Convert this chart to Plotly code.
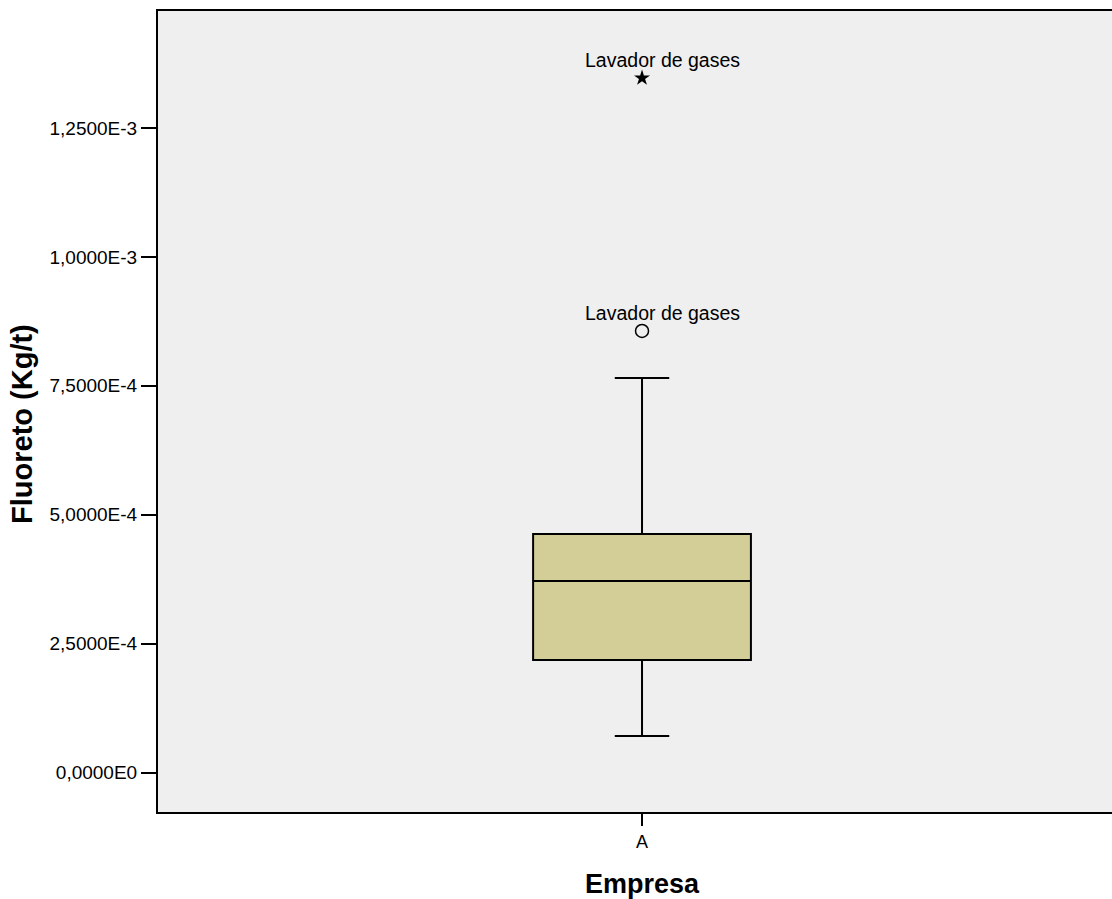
import plotly.graph_objects as go

# Box-plot summary for Fluoreto (Kg/t) by Empresa
categories = ["A"]
q1 = [2.182e-4]
median = [3.714e-4]
q3 = [4.626e-4]
lower_whisker = [7.08e-5]
upper_whisker = [7.651e-4]

# Points beyond the whiskers: outlier (circle) and extreme (star)
outlier_values = [8.563e-4]
extreme_values = [1.347e-3]
outlier_labels = ["Lavador de gases"]
extreme_labels = ["Lavador de gases"]

tick_values = [0, 2.5e-4, 5e-4, 7.5e-4, 1e-3, 1.25e-3]
tick_labels = ["0,0000E0", "2,5000E-4", "5,0000E-4", "7,5000E-4", "1,0000E-3", "1,2500E-3"]

FONT = "Liberation Sans, Arial, sans-serif"

fig = go.Figure()

fig.add_trace(go.Box(
    x=categories,
    q1=q1, median=median, q3=q3,
    lowerfence=lower_whisker, upperfence=upper_whisker,
    boxpoints=False,
    width=0.225,
    whiskerwidth=0.25,
    fillcolor="#D3CE98",
    line=dict(color="black", width=2),
    hoverinfo="skip",
    showlegend=False,
))

fig.add_trace(go.Scatter(
    x=categories * len(outlier_values), y=outlier_values,
    mode="markers",
    marker=dict(symbol="circle-open", size=13, color="black", line=dict(width=1.5, color="black")),
    showlegend=False,
))

fig.add_trace(go.Scatter(
    x=categories * len(extreme_values), y=extreme_values,
    mode="markers",
    marker=dict(symbol="star", size=12, color="black", line=dict(width=0)),
    showlegend=False,
))

for val, lab in list(zip(outlier_values, outlier_labels)) + list(zip(extreme_values, extreme_labels)):
    fig.add_annotation(
        x=categories[0], y=val, xref="x", yref="y",
        text=lab, showarrow=False,
        xshift=20, yshift=18,
        font=dict(family=FONT, size=19.5, color="black"),
    )

# Axis titles
fig.add_annotation(
    x=categories[0], y=-0.0899, xref="x", yref="paper",
    xanchor="center", yanchor="middle",
    text="<b>Empresa</b>", showarrow=False,
    font=dict(family=FONT, size=27, color="black"),
)
fig.add_annotation(
    x=-0.1426, y=0.4844, xref="paper", yref="paper",
    xanchor="center", yanchor="middle",
    text="<b>Fluoreto (Kg/t)</b>", showarrow=False, textangle=-90,
    font=dict(family=FONT, size=29, color="black"),
)

fig.update_layout(
    width=1112, height=899,
    margin=dict(l=158, r=0, t=11, b=87),
    paper_bgcolor="white",
    plot_bgcolor="#EFEFEF",
    font=dict(family=FONT, size=19, color="black"),
    xaxis=dict(
        type="category",
        range=[-0.5, 0.4855],
        showgrid=False, zeroline=False,
        showline=True, linecolor="black", linewidth=2, mirror=True,
        ticks="outside", ticklen=12, tickwidth=2, tickcolor="black",
        tickfont=dict(family=FONT, size=18),
    ),
    yaxis=dict(
        range=[-7.66e-5, 1.4769e-3],
        tickvals=tick_values, ticktext=tick_labels,
        showgrid=False, zeroline=False,
        showline=True, linecolor="black", linewidth=2,
        ticks="outside", ticklen=15, tickwidth=2, tickcolor="black",
        tickfont=dict(family=FONT, size=19),
    ),
)

fig.write_html("out.html")
